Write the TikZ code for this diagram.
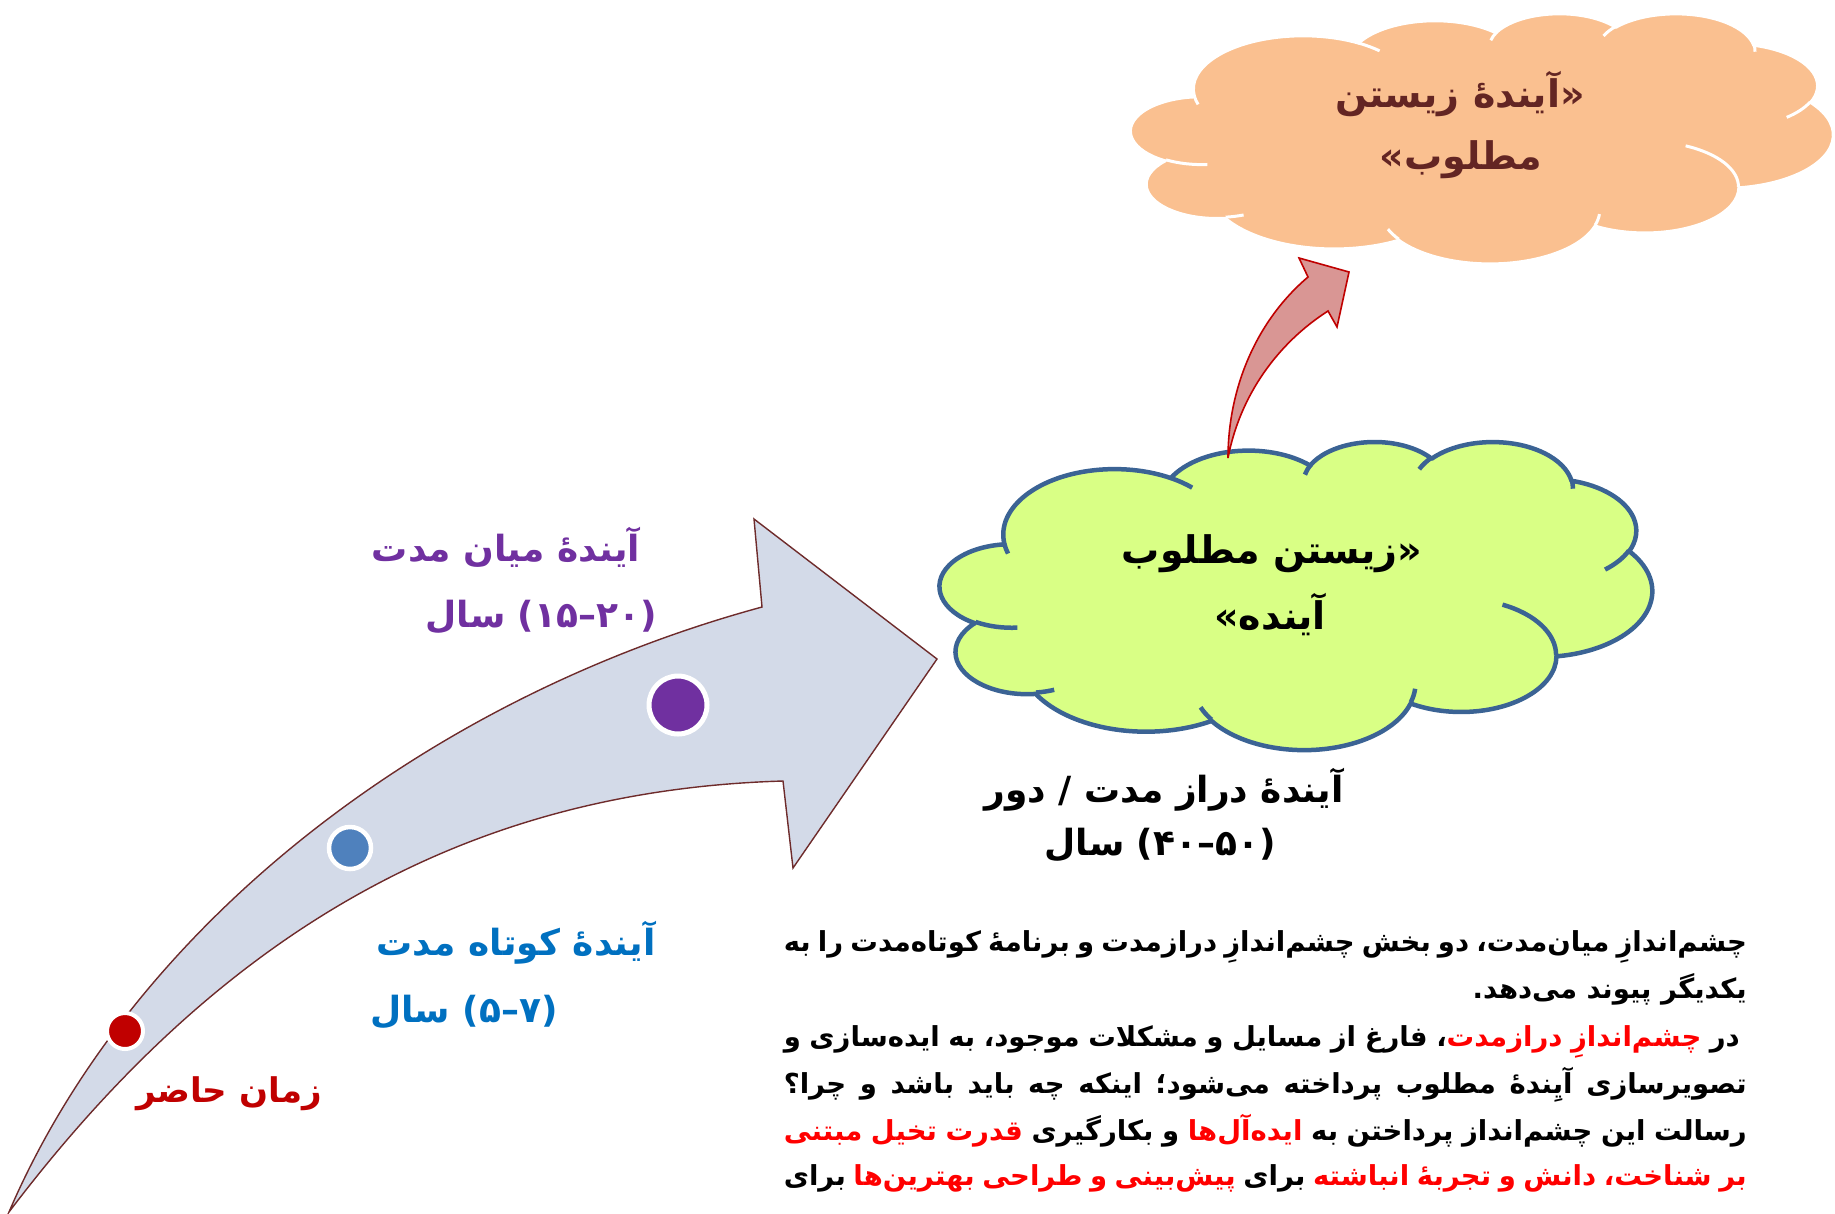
\documentclass[tikz,border=0pt]{standalone}
\usepackage{fontspec}
\TeXXeTstate=1
\newfontfamily\ar[Script=Arabic]{DejaVu Sans}
\newfontfamily\arRed[Script=Arabic,Color=FF0000]{DejaVu Sans}
\newfontfamily\arnum{DejaVu Sans}
\newcommand\rd[1]{{\arRed #1}}
\newcommand\RL[1]{\beginR#1\endR}
\newcommand\yrs[2]{\RL{سال}\ \mbox{\arnum(}\mbox{#1}\mbox{\arnum–}\mbox{#2}\mbox{\arnum)}}
% OOXML-style elliptical arc (visual angles converted to parametric ones)
\newcommand\oarc[4]{arc[x radius=#1, y radius=#2,
  start angle={atan2((#1)*sin(#3),(#2)*cos(#3))},
  delta angle={mod(atan2((#1)*sin((#3)+(#4)),(#2)*cos((#3)+(#4)))-atan2((#1)*sin(#3),(#2)*cos(#3))+720,360)}]}
\newcommand\cloudpath{(9.0278,33.2639)
  \oarc{15.6319}{21.2731}{-190.4875}{123.7805}
  \oarc{12.3449}{16.8218}{-144.1024}{89.9452}
  \oarc{10.1042}{13.7616}{-145.8079}{99.7230}
  \oarc{11.2431}{15.2662}{-130.9861}{117.2417}
  \oarc{12.3449}{16.8356}{-78.7089}{109.0269}
  \oarc{15.6829}{21.3426}{-46.2673}{130.2690}
  \oarc{13.3912}{18.2106}{0.6250}{114.0333}
  \oarc{15.6296}{21.3310}{22.4516}{115.1726}
  \oarc{17.8704}{24.4051}{66.2426}{75.7110}
  \oarc{10.0926}{13.6991}{-274.9421}{146.7356}
  \oarc{10.0579}{13.7616}{-246.8285}{152.5189} -- cycle}
\newcommand\cloudinner{
  (10.8634,60.5949) \oarc{10.0579}{13.7616}{86.742}{26.4295}
  (16.0370,80.7847) \oarc{10.0926}{13.6991}{73.6105}{11.4475}
  (38.1435,90.4861) \oarc{15.6296}{21.3310}{137.6242}{14.0811}
  (66.7292,80.4421) \oarc{15.6296}{21.3310}{6.4533}{15.9984}
  (79.0023,53.1343) \oarc{13.3912}{18.2106}{-70.2924}{70.9174}
  (96.7546,35.5417) \oarc{12.3449}{16.8356}{30.3180}{27.7515}
  (88.7130,12.5602) \oarc{11.2431}{15.2662}{-13.7443}{14.8589}
  (67.3102,9.1481) \oarc{11.2431}{15.2662}{-149.1815}{18.1954}
  (51.2523,10.9259) \oarc{10.1042}{13.7616}{-163.4943}{17.5615}
  (32.4074,12.0185) \oarc{15.6319}{21.2731}{-66.7070}{12.3194}
  (9.5532,36.5486) \oarc{15.6319}{21.2731}{157.6544}{11.8582}}
\definecolor{arrowfill}{HTML}{D3DAE8}
\definecolor{arrowline}{HTML}{6E2B2B}
\definecolor{cgreen}{HTML}{D9FF85}
\definecolor{cgreenline}{HTML}{3B6394}
\definecolor{cpeach}{HTML}{FAC090}
\definecolor{ptext}{HTML}{632523}
\definecolor{rafill}{HTML}{D99694}
\definecolor{raline}{HTML}{C00000}
\definecolor{cpurple}{HTML}{7030A0}
\definecolor{cblue}{HTML}{0070C0}
\definecolor{cdred}{HTML}{C00000}
\definecolor{dotblue}{HTML}{4F81BD}
\begin{document}
\begin{tikzpicture}[x=1pt,y=-1pt,
  lbl/.style={font=\ar\bfseries\fontsize{36}{42}\selectfont, inner sep=0},
  ctxt/.style={font=\ar\bfseries\fontsize{38}{44}\selectfont, inner sep=0},
  para/.style={font=\ar\bfseries\fontsize{27.5}{32}\selectfont, inner sep=0, anchor=base east},
  dotnode/.style={circle, draw=white, inner sep=0}]
\useasboundingbox (0,0) rectangle (1835,1213);
% big arrow
\draw[fill=arrowfill, draw=arrowline, line width=1.4pt, line join=miter]
  (9,1212) .. controls (130,930) and (420,700) .. (762,607) -- (754,519) -- (937,659)
  -- (793,868) -- (783,781) .. controls (480,790) and (230,920) .. cycle;
% dots
\node[dotnode, fill=cdred, minimum size=36pt, line width=4pt] (dred) at (125,1031) {};
\node[dotnode, fill=dotblue, minimum size=42pt, line width=4.5pt] (dblue) at (350,848) {};
\node[dotnode, fill=cpurple, minimum size=58pt, line width=5pt] (dpurple) at (678,705) {};
% green cloud
\begin{scope}[shift={(940,441)}, x=7.12pt, y=-3.08pt]
  \path[fill=cgreen, draw=cgreenline, line width=4.5pt, line join=round] \cloudpath;
  \draw[cgreenline, line width=4.5pt] \cloudinner;
\end{scope}
% peach cloud
\begin{scope}[shift={(1131,13)}, x=7.02pt, y=-2.50pt]
  \path[fill=cpeach, draw=white, line width=3pt, line join=round] \cloudpath;
  \draw[white, line width=3pt] \cloudinner;
\end{scope}
% red curved arrow
\draw[fill=rafill, draw=raline, line width=1.6pt, line join=miter]
  (1228,458) .. controls (1228,390) and (1255,322) .. (1308,277) -- (1299,258) -- (1349,272)
  -- (1337,327) -- (1328,311) .. controls (1278,343) and (1240,395) .. cycle;
% cloud texts
\node[ctxt] (g1) at (1272,554) {\RL{«زیستن مطلوب}};
\node[ctxt] (g2) at (1270,614) {\RL{آینده»}};
\node[ctxt, text=ptext] (c1) at (1460,94) {\RL{«آیندهٔ زیستن}};
\node[ctxt, text=ptext] (c2) at (1461,160) {\RL{مطلوب»}};
% labels
\node[lbl, text=cpurple] (mid1) at (506,547) {\RL{آیندهٔ میان مدت}};
\node[lbl, text=cpurple] (mid2) at (541,617) {\yrs{۱۵}{۲۰}};
\node[lbl, text=cblue] (sh1) at (516,943) {\RL{آیندهٔ کوتاه مدت}};
\node[lbl, text=cblue] (sh2) at (464,1012) {\yrs{۵}{۷}};
\node[lbl, text=cdred, font=\ar\bfseries\fontsize{34}{40}\selectfont] (now) at (229,1094) {\RL{زمان حاضر}};
\node[lbl, text=black] (lg1) at (1164,790) {\RL{آیندهٔ دراز مدت / دور}};
\node[lbl, text=black] (lg2) at (1160,845) {\yrs{۴۰}{۵۰}};
% paragraph
\node[para] (p1) at (1747,951) {\hbox to 963pt{\beginR چشم‌اندازِ میان‌مدت، دو بخش چشم‌اندازِ درازمدت و برنامهٔ کوتاه‌مدت را به\endR}};
\node[para] (p2) at (1747,998) {\hbox to 963pt{\hfill\beginR یکدیگر پیوند می‌دهد.\endR}};
\node[para] (p3) at (1740,1046) {\hbox to 956pt{\beginR در \rd{چشم‌اندازِ درازمدت}، فارغ از مسایل و مشکلات موجود، به ایده‌سازی و\endR}};
\node[para] (p4) at (1747,1093) {\hbox to 963pt{\beginR تصویرسازی آیِندهٔ مطلوب پرداخته می‌شود؛ اینکه چه باید باشد و چرا؟\endR}};
\node[para] (p5) at (1747,1140) {\hbox to 963pt{\beginR رسالت این چشم‌انداز پرداختن به \rd{ایده‌آل‌ها} و بکارگیری \rd{قدرت تخیل مبتنی}\endR}};
\node[para] (p6) at (1747,1185) {\hbox to 963pt{\beginR \rd{بر شناخت، دانش و تجربهٔ انباشته} برای \rd{پیش‌بینی و طراحی بهترین‌ها} برای\endR}};
\end{tikzpicture}
\end{document}
